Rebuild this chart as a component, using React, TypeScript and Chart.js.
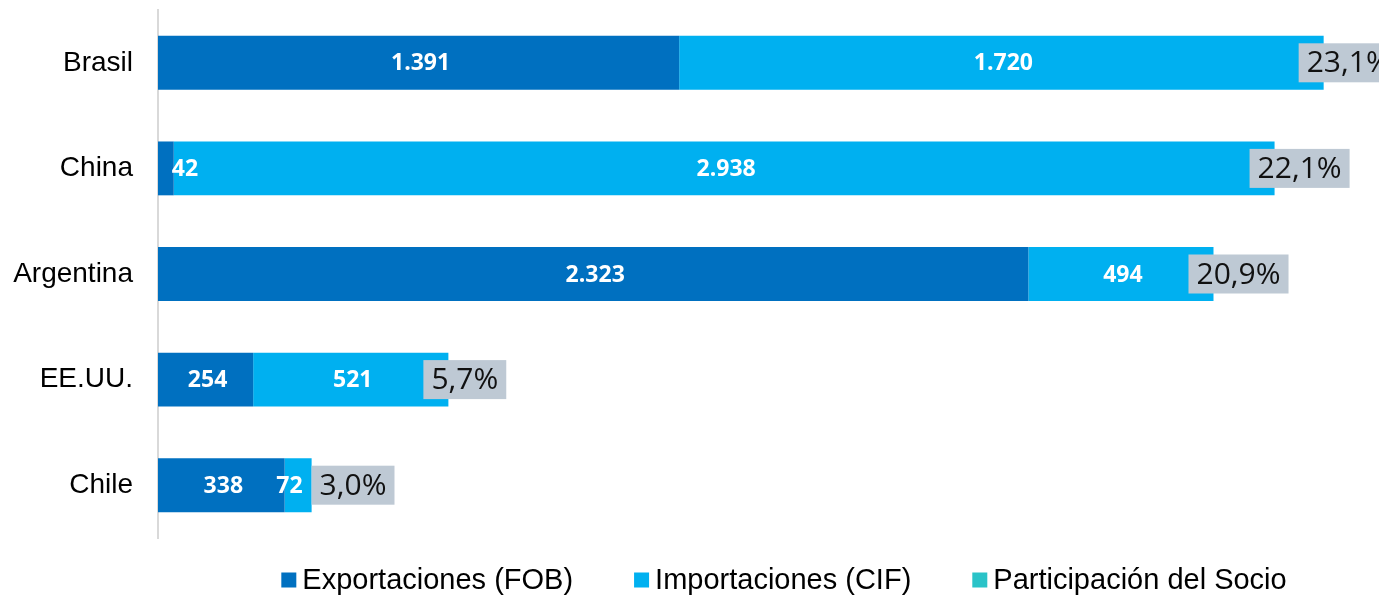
import React, { useEffect, useRef } from "react";
import { Chart, registerables } from "chart.js";

Chart.register(...registerables);

const categories = ["Brasil", "China", "Argentina", "EE.UU.", "Chile"];
const exportaciones = [1391, 42, 2323, 254, 338];
const importaciones = [1720, 2938, 494, 521, 72];
const participacion = [23.1, 22.1, 20.9, 5.7, 3.0];
const seriesNames = ["Exportaciones (FOB)", "Importaciones (CIF)", "Participación del Socio"];
const seriesColors = ["#0070C0", "#00B0F0", "#2AC3C8"];

const fmtThousands = (v: number) => String(v).replace(/\B(?=(\d{3})+(?!\d))/g, ".");
const fmtPct = (v: number) => v.toFixed(1).replace(".", ",") + "%";

const labelsPlugin = {
  id: "barLabels",
  afterDatasetsDraw(chart: any) {
    const ctx = chart.ctx;
    const xScale = chart.scales.x;
    const rightEdges: number[] = categories.map(() => -Infinity);
    ctx.save();
    ctx.font = "700 23px 'Open Sans', sans-serif";
    ctx.fillStyle = "#ffffff";
    ctx.textBaseline = "middle";
    ctx.textAlign = "left";
    [0, 1].forEach((di) => {
      const meta = chart.getDatasetMeta(di);
      const values = chart.data.datasets[di].data as number[];
      meta.data.forEach((bar: any, i: number) => {
        const txt = fmtThousands(values[i]);
        const w = ctx.measureText(txt).width;
        const start = Math.min(bar.base, bar.x);
        const end = Math.max(bar.base, bar.x);
        let left = (start + end) / 2 - w / 2 + 2;
        const tight = w + 4 > end - start;
        if (tight && di === 0) left = end - 2;
        if (tight && di === 1) left = end - w - 9;
        ctx.fillText(txt, left, bar.y + 1);
        rightEdges[i] = Math.max(rightEdges[i], left + w);
      });
    });
    // share boxes
    ctx.font = "400 30px 'Open Sans', sans-serif";
    const meta0 = chart.getDatasetMeta(0);
    categories.forEach((_, i) => {
      const total = exportaciones[i] + importaciones[i];
      const barEnd = xScale.getPixelForValue(total);
      const txt = fmtPct(participacion[i]);
      const w = ctx.measureText(txt).width;
      const boxW = w + 16;
      const boxH = 39;
      const left = Math.max(barEnd - 25, rightEdges[i] + 9);
      const cy = meta0.data[i].y;
      ctx.fillStyle = "#BEC9D4";
      ctx.fillRect(left, cy - boxH / 2, boxW, boxH);
      ctx.fillStyle = "#111111";
      ctx.fillText(txt, left + 8, cy + 1);
    });
    ctx.restore();
  },
};

const legendPlugin = {
  id: "customLegend",
  afterDraw(chart: any) {
    const ctx = chart.ctx;
    ctx.save();
    ctx.font = "29px 'Liberation Sans', Arial, sans-serif";
    ctx.textBaseline = "middle";
    ctx.textAlign = "left";
    const box = 15;
    const gap = 6;
    const spacing = 61;
    const widths = seriesNames.map((n) => ctx.measureText(n).width);
    const total = widths.reduce((a, b) => a + b, 0) + seriesNames.length * (box + gap) + spacing * (seriesNames.length - 1);
    let x = 784 - total / 2;
    const y = 580;
    seriesNames.forEach((n, i) => {
      ctx.fillStyle = seriesColors[i];
      ctx.fillRect(x, y - box / 2, box, box);
      x += box + gap;
      ctx.fillStyle = "#000000";
      ctx.fillText(n, x, y + 1);
      x += widths[i] + spacing;
    });
    ctx.restore();
  },
};

export default function App() {
  const ref = useRef<HTMLCanvasElement | null>(null);
  useEffect(() => {
    if (!ref.current) return;
    const chart = new Chart(ref.current, {
      type: "bar",
      data: {
        labels: categories,
        datasets: [
          { label: seriesNames[0], data: exportaciones, backgroundColor: seriesColors[0], xAxisID: "x" },
          { label: seriesNames[1], data: importaciones, backgroundColor: seriesColors[1], xAxisID: "x" },
          { label: seriesNames[2], data: participacion, backgroundColor: "rgba(0,0,0,0)", xAxisID: "xs" },
        ],
      },
      options: {
        indexAxis: "y",
        animation: false,
        responsive: true,
        maintainAspectRatio: false,
        events: [],
        layout: { padding: { top: 10, right: 22, bottom: 58, left: 0 } },
        datasets: { bar: { categoryPercentage: 1, barPercentage: 0.51, borderWidth: 0 } },
        plugins: { legend: { display: false }, tooltip: { enabled: false } },
        scales: {
          x: { stacked: true, min: 0, max: 3200, display: false },
          xs: { min: 0, max: 100000, display: false },
          y: {
            stacked: true,
            afterFit: (s: any) => {
              s.width = 158;
              s.paddingTop = 0;
              s.paddingBottom = 0;
            },
            grid: { display: false, drawTicks: false },
            border: { display: true, color: "#D9D9D9", width: 2 },
            ticks: {
              padding: 25,
              color: "#000000",
              font: { family: "'Liberation Sans', Arial, sans-serif", size: 28 },
            },
          },
        },
      },
      plugins: [labelsPlugin, legendPlugin],
    });
    return () => chart.destroy();
  }, []);
  return (
    <div style={{ position: "fixed", left: 0, top: 0, width: 1379, height: 596, background: "#fff" }}>
      <canvas ref={ref} />
    </div>
  );
}
